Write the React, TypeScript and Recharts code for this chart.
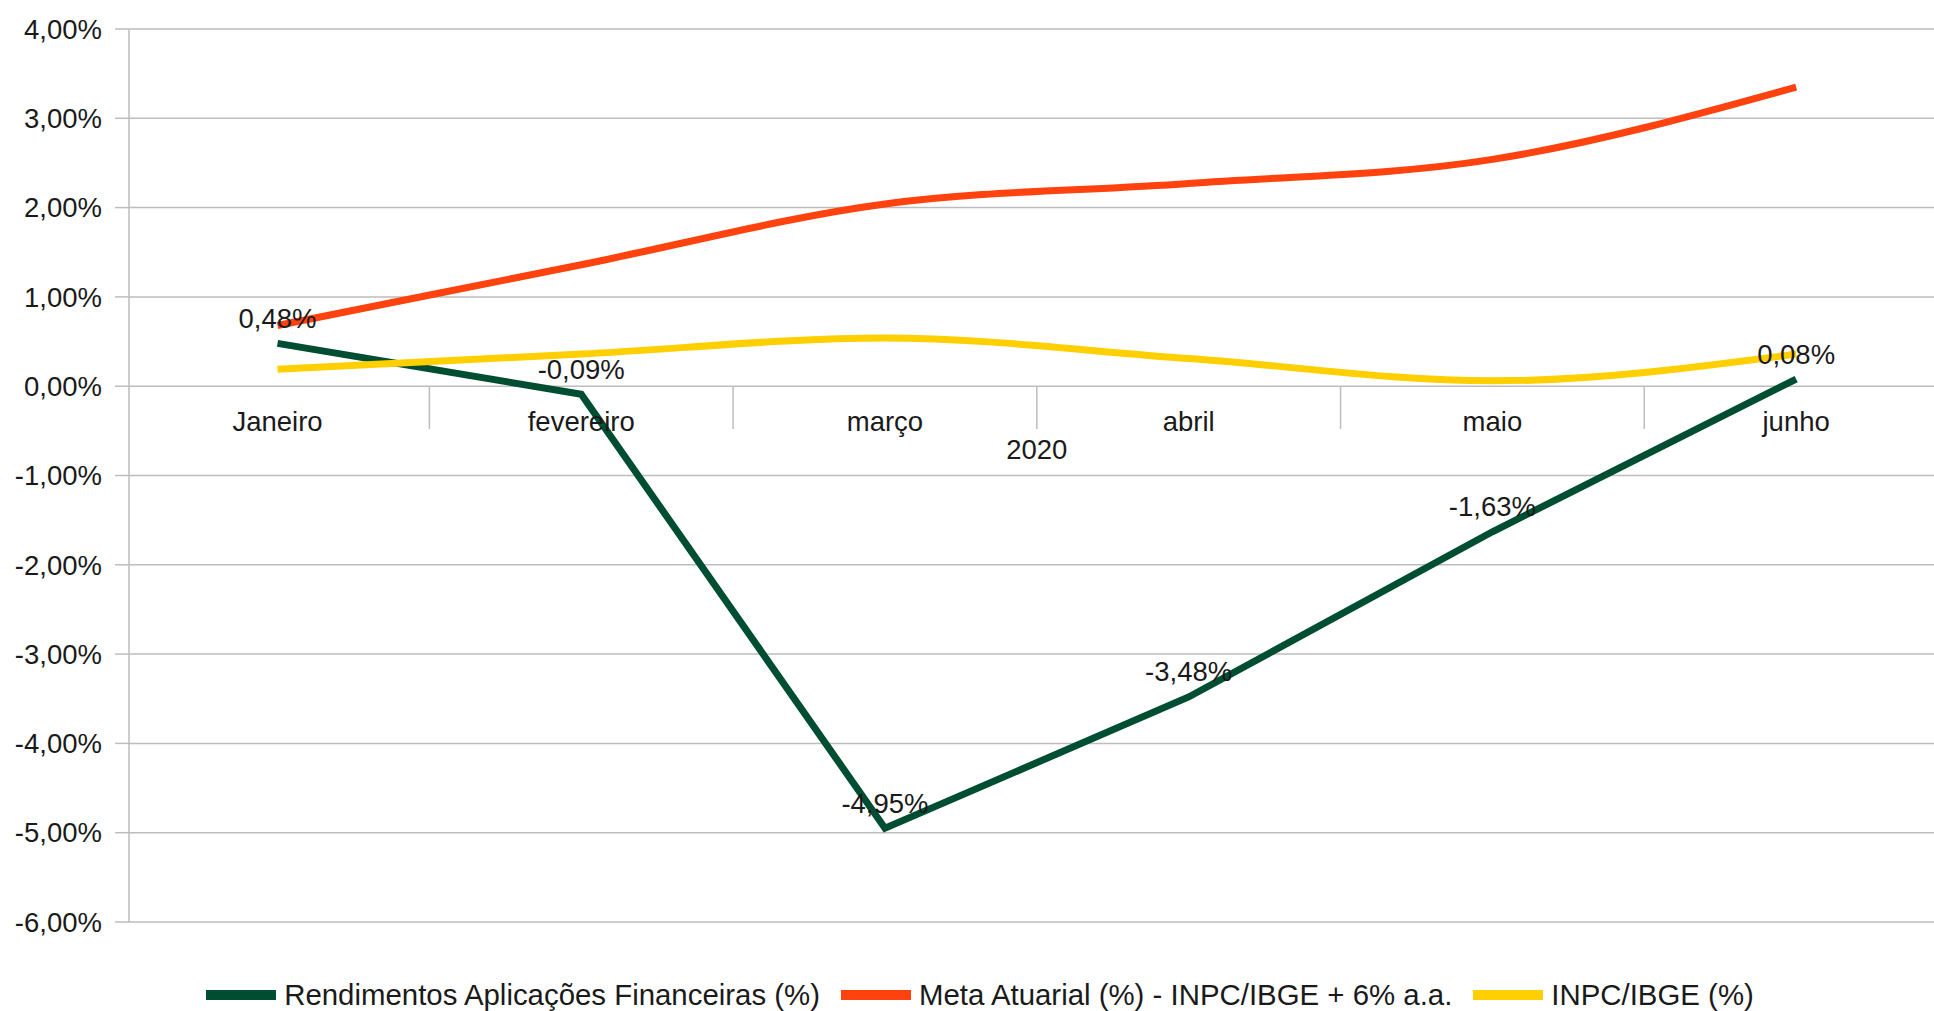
import React from "react";
import {
  LineChart,
  Line,
  XAxis,
  YAxis,
  CartesianGrid,
  ReferenceLine,
  ReferenceDot,
  LabelList,
  Legend,
} from "recharts";

const months = ["Janeiro", "fevereiro", "março", "abril", "maio", "junho"];
const yearLabel = "2020";
const rendimentos = [0.48, -0.09, -4.95, -3.48, -1.63, 0.08];
const metaAtuarial = [0.68, 1.36, 2.04, 2.27, 2.54, 3.35];
const inpc = [0.19, 0.36, 0.54, 0.31, 0.06, 0.36];
const yTicks = [-6, -5, -4, -3, -2, -1, 0, 1, 2, 3, 4];

const seriesNames = [
  "Rendimentos Aplicações Financeiras (%)",
  "Meta Atuarial (%) - INPC/IBGE + 6% a.a.",
  "INPC/IBGE (%)",
];
const colors = ["#004e32", "#ff420e", "#ffcf00"];

const FONT = '"Liberation Sans", Arial, sans-serif';
const TEXT = "#1a1a1a";
const GRID = "#bdbdbd";

const data = months.map((m, i) => ({
  idx: i,
  month: m,
  rend: rendimentos[i],
  meta: metaAtuarial[i],
  inpc: inpc[i],
}));

const pct = (v: number) => `${v.toFixed(2).replace(".", ",")}%`;

// boundaries between the month bands
const separators = months.slice(1).map((_, i) => i + 0.5);

function ChartLegend() {
  return (
    <div
      style={{
        display: "flex",
        justifyContent: "center",
        alignItems: "center",
        height: 36,
        fontFamily: FONT,
        fontSize: 29.4,
        color: TEXT,
        whiteSpace: "nowrap",
      }}
    >
      {seriesNames.map((name, i) => (
        <div
          key={name}
          style={{ display: "flex", alignItems: "center", marginRight: i < 2 ? 21 : 0 }}
        >
          <span
            style={{
              display: "inline-block",
              width: 70,
              height: 10,
              background: colors[i],
              marginRight: 8,
            }}
          />
          <span>{name}</span>
        </div>
      ))}
    </div>
  );
}

export default function App() {
  return (
    <div
      style={{
        position: "fixed",
        left: 0,
        top: 0,
        width: 1934,
        height: 1011,
        overflow: "hidden",
        background: "#fff",
      }}
    >
      <LineChart
        width={1960}
        height={1011}
        data={data}
        margin={{ top: 29, right: 12, left: 0, bottom: 53 }}
      >
        <CartesianGrid vertical={false} stroke={GRID} strokeWidth={1.5} />
        <XAxis type="number" dataKey="idx" domain={[-0.489, 5.5]} allowDataOverflow hide />
        <YAxis
          type="number"
          domain={[-6, 4]}
          ticks={yTicks}
          interval={0}
          width={129}
          tickSize={14}
          tickMargin={13}
          tickFormatter={pct}
          stroke={GRID}
          strokeWidth={1.5}
          tick={{ fill: TEXT, fontSize: 27.5, fontFamily: FONT }}
        />
        {separators.map((s) => (
          <ReferenceLine
            key={s}
            segment={[
              { x: s, y: 0 },
              { x: s, y: -0.48 },
            ]}
            stroke={GRID}
            strokeWidth={1.5}
          />
        ))}
        {months.map((m, i) => (
          <ReferenceDot
            key={m}
            x={i}
            y={0}
            r={0}
            fill="none"
            stroke="none"
            label={{
              value: m,
              position: "bottom",
              offset: 25,
              fill: TEXT,
              fontSize: 27.5,
              fontFamily: FONT,
            }}
          />
        ))}
        <ReferenceDot
          x={2.5}
          y={0}
          r={0}
          fill="none"
          stroke="none"
          label={{
            value: yearLabel,
            position: "bottom",
            offset: 53,
            fill: TEXT,
            fontSize: 27.5,
            fontFamily: FONT,
          }}
        />
        <Line
          type="linear"
          dataKey="rend"
          stroke={colors[0]}
          strokeWidth={7}
          dot={false}
          activeDot={false}
          isAnimationActive={false}
        />
        <Line
          type="monotone"
          dataKey="meta"
          stroke={colors[1]}
          strokeWidth={7}
          dot={false}
          activeDot={false}
          isAnimationActive={false}
        />
        <Line
          type="monotone"
          dataKey="inpc"
          stroke={colors[2]}
          strokeWidth={7}
          dot={false}
          activeDot={false}
          isAnimationActive={false}
        />
        {/* labels drawn last so they sit on top of every line */}
        <Line
          type="linear"
          dataKey="rend"
          stroke="none"
          dot={false}
          activeDot={false}
          legendType="none"
          isAnimationActive={false}
        >
          <LabelList
            dataKey="rend"
            position="top"
            offset={15.5}
            formatter={(v: any) => pct(Number(v))}
            fill={TEXT}
            fontSize={27.5}
            fontFamily={FONT}
          />
        </Line>
        <Legend
          verticalAlign="bottom"
          content={() => <ChartLegend />}
          wrapperStyle={{ left: 0, width: 1960, top: 977, height: 36 }}
        />
      </LineChart>
    </div>
  );
}
